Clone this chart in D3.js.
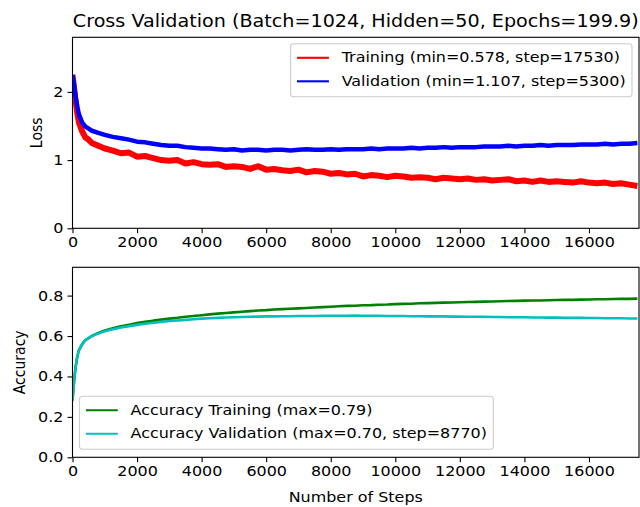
<!DOCTYPE html>
<html lang="en">
<head>
  <meta charset="UTF-8">
  <title>Cross Validation</title>
  <script src="https://cdn.jsdelivr.net/npm/d3@7"></script>
  <style>
    body { margin: 0; background: #fff; }
    svg text { font-family: "DejaVu Sans", sans-serif; fill: #000; }
  </style>
</head>
<body>
  <div id="chart"></div>
  <script>
    const steps = [0, 50, 100, 150, 200, 300, 400, 500, 600, 800, 1000,
      1250, 1500, 1750, 2000, 2250, 2500, 2750, 3000, 3250, 3500, 3750, 4000,
      4250, 4500, 4750, 5000, 5250, 5500, 5750, 6000, 6250, 6500, 6750, 7000,
      7250, 7500, 7750, 8000, 8250, 8500, 8750, 9000, 9250, 9500, 9750, 10000,
      10250, 10500, 10750, 11000, 11250, 11500, 11750, 12000, 12250, 12500, 12750, 13000,
      13250, 13500, 13750, 14000, 14250, 14500, 14750, 15000, 15250, 15500, 15750, 16000,
      16250, 16500, 16750, 17000, 17250, 17500];

    const lossTraining = [2.25, 2.05, 1.85, 1.68, 1.55, 1.42, 1.33, 1.30, 1.25, 1.21, 1.17,
      1.14, 1.10, 1.11, 1.05, 1.06, 1.03, 1.00, 0.99, 1.00, 0.95, 0.97, 0.94,
      0.93, 0.94, 0.90, 0.91, 0.90, 0.87, 0.91, 0.86, 0.87, 0.85, 0.84, 0.86,
      0.82, 0.84, 0.83, 0.80, 0.81, 0.79, 0.80, 0.76, 0.78, 0.77, 0.75, 0.77,
      0.76, 0.74, 0.75, 0.74, 0.72, 0.74, 0.73, 0.72, 0.73, 0.71, 0.72, 0.70,
      0.71, 0.72, 0.69, 0.70, 0.68, 0.70, 0.68, 0.69, 0.68, 0.67, 0.69, 0.67,
      0.66, 0.67, 0.65, 0.66, 0.64, 0.62];

    const lossValidation = [2.25, 2.10, 1.92, 1.78, 1.67, 1.55, 1.49, 1.46, 1.43, 1.40, 1.37,
      1.34, 1.32, 1.30, 1.27, 1.26, 1.24, 1.22, 1.21, 1.21, 1.19, 1.18, 1.17,
      1.17, 1.16, 1.15, 1.16, 1.14, 1.15, 1.15, 1.14, 1.15, 1.15, 1.14, 1.15,
      1.16, 1.15, 1.15, 1.16, 1.15, 1.16, 1.16, 1.16, 1.17, 1.16, 1.17, 1.17,
      1.17, 1.18, 1.17, 1.18, 1.18, 1.19, 1.18, 1.19, 1.19, 1.19, 1.20, 1.20,
      1.20, 1.21, 1.20, 1.21, 1.21, 1.22, 1.21, 1.22, 1.22, 1.22, 1.23, 1.23,
      1.23, 1.24, 1.23, 1.24, 1.24, 1.25];

    const accTraining = [0.28, 0.38, 0.45, 0.50, 0.53, 0.56, 0.58, 0.59, 0.60, 0.615, 0.627,
      0.638, 0.648, 0.656, 0.664, 0.670, 0.676, 0.681, 0.686, 0.690, 0.695, 0.699, 0.703,
      0.707, 0.711, 0.714, 0.717, 0.720, 0.723, 0.726, 0.728, 0.731, 0.733, 0.735, 0.737,
      0.739, 0.741, 0.743, 0.745, 0.747, 0.749, 0.750, 0.752, 0.753, 0.755, 0.756, 0.758,
      0.759, 0.760, 0.762, 0.763, 0.764, 0.765, 0.766, 0.767, 0.768, 0.769, 0.770, 0.771,
      0.772, 0.773, 0.774, 0.775, 0.776, 0.776, 0.777, 0.778, 0.779, 0.779, 0.780, 0.781,
      0.782, 0.782, 0.783, 0.784, 0.784, 0.785];

    const accValidation = [0.28, 0.38, 0.45, 0.50, 0.53, 0.56, 0.58, 0.59, 0.60, 0.613, 0.624,
      0.634, 0.642, 0.649, 0.655, 0.661, 0.666, 0.670, 0.674, 0.677, 0.680, 0.683, 0.686,
      0.688, 0.690, 0.692, 0.693, 0.694, 0.695, 0.696, 0.697, 0.697, 0.698, 0.698, 0.699,
      0.699, 0.699, 0.700, 0.700, 0.700, 0.700, 0.701, 0.700, 0.700, 0.700, 0.699, 0.699,
      0.699, 0.698, 0.698, 0.697, 0.697, 0.697, 0.696, 0.696, 0.695, 0.695, 0.695, 0.694,
      0.694, 0.693, 0.693, 0.693, 0.692, 0.692, 0.691, 0.691, 0.690, 0.690, 0.690, 0.689,
      0.689, 0.688, 0.688, 0.688, 0.687, 0.687];

    const xTicks = [0, 2000, 4000, 6000, 8000, 10000, 12000, 14000, 16000];
    const lossTicks = [0, 1, 2];
    const accTicks = [0.0, 0.2, 0.4, 0.6, 0.8];

    const title = "Cross Validation (Batch=1024, Hidden=50, Epochs=199.9)";
    const lossLabels = ["Training (min=0.578, step=17530)", "Validation (min=1.107, step=5300)"];
    const accLabels = ["Accuracy Training (max=0.79)", "Accuracy Validation (max=0.70, step=8770)"];

    const W = 640, H = 507;
    const left = 72.5, right = 639;
    const fs = 14;
    const sx = 1.14; // the original figure is a little wider than tall

    const svg = d3.select("#chart").append("svg")
      .attr("width", W).attr("height", H);

    const x = d3.scaleLinear().domain([0, 17550]).range([left, right]);

    svg.append("text")
      .attr("transform", `translate(${(left + right) / 2},27) scale(${sx},1)`)
      .attr("text-anchor", "middle")
      .style("font-size", "16.8px")
      .text(title);

    function panel(id, top, bottom, yDomain, yTicks, fmt, series, yLabel, labelX, legendLabels, legendPos) {
      const y = d3.scaleLinear().domain(yDomain).range([bottom, top]);
      const g = svg.append("g");

      g.append("clipPath").attr("id", id)
        .append("rect").attr("x", left).attr("y", top)
        .attr("width", right - left).attr("height", bottom - top);

      const line = d3.line().x((d, i) => x(steps[i])).y(d => y(d));
      series.forEach(s => {
        g.append("path")
          .datum(s.values)
          .attr("clip-path", `url(#${id})`)
          .attr("fill", "none")
          .attr("stroke", s.color)
          .attr("stroke-width", s.width)
          .attr("stroke-linejoin", "round")
          .attr("d", line);
      });

      // axes
      const xa = g.append("g").attr("transform", `translate(0,${bottom})`)
        .call(d3.axisBottom(x).tickValues(xTicks).tickFormat(d3.format("d")).tickSize(5).tickPadding(4));
      const ya = g.append("g").attr("transform", `translate(${left},0)`)
        .call(d3.axisLeft(y).tickValues(yTicks).tickFormat(fmt).tickSize(5).tickPadding(3));
      [xa, ya].forEach(a => {
        a.select(".domain").remove();
        a.selectAll("text").style("font-size", fs + "px").attr("font-family", null)
          .attr("transform", `scale(${sx},1)`);
        a.selectAll("line").attr("stroke", "#000").attr("stroke-width", 1.1);
      });

      g.append("rect")
        .attr("x", left).attr("y", top)
        .attr("width", right - left).attr("height", bottom - top)
        .attr("fill", "none").attr("stroke", "#000").attr("stroke-width", 1.1);

      g.append("text")
        .attr("transform", `translate(${labelX},${(top + bottom) / 2}) scale(${sx},1) rotate(-90)`)
        .attr("text-anchor", "middle")
        .style("font-size", fs + "px")
        .text(yLabel);

      // legend, laid out unscaled then stretched about its anchor edge
      const ax = legendPos === "ur" ? right - 7 : left + 7;
      const lg = g.append("g")
        .attr("transform", `translate(${ax},0) scale(${sx},1) translate(${-ax},0)`);
      const box = lg.append("rect")
        .attr("fill", "#fff").attr("fill-opacity", 0.8)
        .attr("stroke", "#cccccc").attr("stroke-width", 1)
        .attr("rx", 3);
      const texts = legendLabels.map(t => lg.append("text")
        .attr("dominant-baseline", "central")
        .style("font-size", fs + "px").text(t));
      const tw = d3.max(texts, t => t.node().getComputedTextLength());
      const bw = 5.6 + 28 + 11.2 + tw + 5.6;
      const bh = 53;
      const bx = legendPos === "ur" ? ax - bw : ax;
      const by = legendPos === "ur" ? top + 6.5 : bottom - 8 - bh;
      box.attr("x", bx).attr("y", by).attr("width", bw).attr("height", bh);
      texts.forEach((t, i) => {
        const cy = by + 14 + i * 23.5;
        t.attr("x", bx + 5.6 + 28 + 11.2).attr("y", cy);
        lg.append("line")
          .attr("x1", bx + 5.6).attr("x2", bx + 5.6 + 28)
          .attr("y1", cy).attr("y2", cy)
          .attr("stroke", series[i].color).attr("stroke-width", 2.1);
      });
    }

    panel("clipLoss", 37.3, 228.3, [0, 2.8], lossTicks, d3.format("d"),
      [{ values: lossTraining, color: "#ff0000", width: 6 },
       { values: lossValidation, color: "#0000ff", width: 4.5 }],
      "Loss", 42, lossLabels, "ur");

    panel("clipAcc", 267.3, 457.3, [0, 0.94], accTicks, d3.format(".1f"),
      [{ values: accTraining, color: "#008000", width: 2.6 },
       { values: accValidation, color: "#00bfbf", width: 2.6 }],
      "Accuracy", 25, accLabels, "ll");

    svg.append("text")
      .attr("transform", `translate(${(left + right) / 2},502) scale(${sx},1)`)
      .attr("text-anchor", "middle")
      .style("font-size", fs + "px")
      .text("Number of Steps");
  </script>
</body>
</html>
